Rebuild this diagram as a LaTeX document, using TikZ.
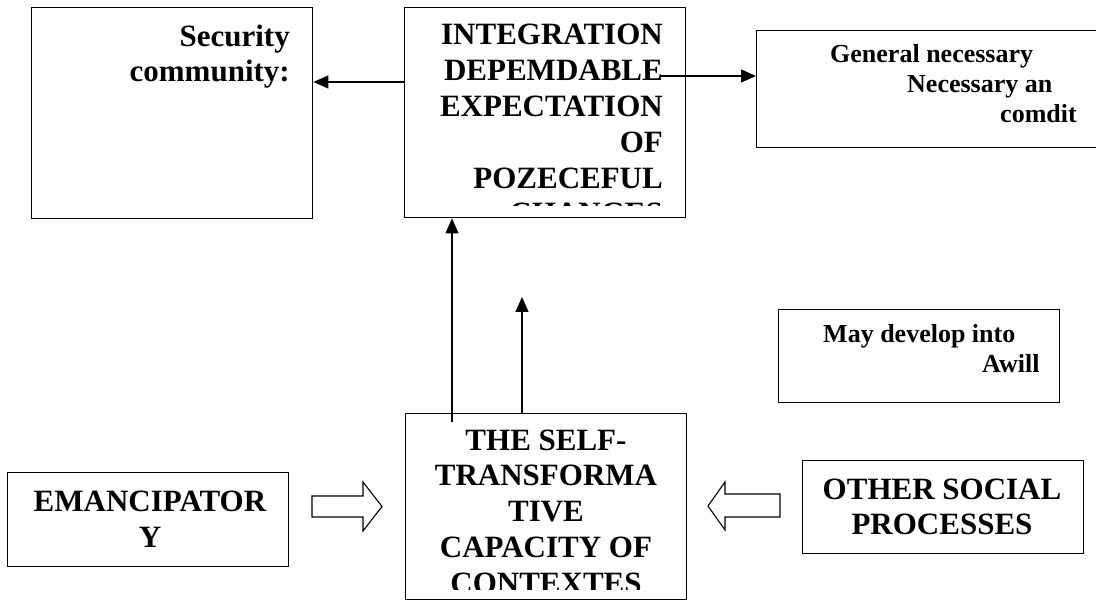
\documentclass[tikz,border=0pt]{standalone}
\usepackage{fontspec}
\setmainfont{Liberation Serif}
\usetikzlibrary{arrows.meta}
\begin{document}
\begin{tikzpicture}[x=1pt,y=-1pt,
  box/.style={draw=black, line width=1.4pt, inner sep=0pt, anchor=north west},
  big/.style={font=\bfseries\fontsize{31}{35.8}\selectfont, inner sep=0pt},
  small/.style={font=\bfseries\fontsize{26}{29.8}\selectfont, inner sep=0pt},
  conn/.style={line width=1.3pt, -{Triangle[length=15pt,width=13pt]}},
  hollow/.style={draw=black, line width=1.1pt, fill=white, line join=miter}]
\useasboundingbox (0,0) rectangle (1096,601);

% boxes
\node[box, minimum width=281pt, minimum height=211pt] (sec) at (31,7) {};
\node[box, minimum width=281pt, minimum height=210pt] (integ) at (404,7) {};
\node[box, minimum width=354pt, minimum height=117pt] (gen) at (756,30) {};
\node[box, minimum width=281pt, minimum height=93pt] (may) at (778,309) {};
\node[box, minimum width=281pt, minimum height=186pt] (self) at (405,413) {};
\node[box, minimum width=281pt, minimum height=94pt] (eman) at (7,472) {};
\node[box, minimum width=281pt, minimum height=93pt] (other) at (802,460) {};

% texts (base anchor = baseline of the last line)
\node[big, align=right, anchor=base east] (sectext) at (290,82) {Security\\community:};
\begin{scope}
  \clip (404,7) rectangle (685,206);
  \node[big, align=right, anchor=base east] (integtext) at (663,224)
    {INTEGRATION\\DEPEMDABLE\\EXPECTATION\\OF\\POZECEFUL\\CHANGES};
\end{scope}
\node[small, align=left, anchor=base west] (gentext) at (830,122.6)
  {General necessary\\\hspace*{77pt}Necessary an\\\hspace*{170pt}comdit};
\node[small, align=left, anchor=base west] (maytext) at (823,372.8)
  {May develop into\\\hspace*{159pt}Awill};
\begin{scope}
  \clip (405,413) rectangle (686,589);
  \node[big, align=center, anchor=base] (selftext) at (546,593.2)
    {THE SELF-\\TRANSFORMA\\TIVE\\CAPACITY OF\\CONTEXTES};
\end{scope}
\node[big, align=center, anchor=base] (emantext) at (150,547.8) {EMANCIPATOR\\Y};
\node[big, align=center, anchor=base] (othertext) at (942,534.8) {OTHER SOCIAL\\PROCESSES};

% connectors
\draw[conn] (integ.west |- 0,82) -- (sec.east |- 0,82);
\coordinate (dstart) at (660,76);
\draw[conn] (dstart) -- (gen.west |- dstart);
\coordinate (vstart) at (452,422);
\draw[conn] (vstart) -- (integ.south -| vstart);
\coordinate (vend) at (522,297);
\draw[conn] (self.north -| vend) -- (vend);

% hollow block arrows
\draw[hollow] (312,496) -- (363,496) -- (363,482) -- (382,506.5) -- (363,531) -- (363,517) -- (312,517) -- cycle;
\draw[hollow] (780,494) -- (725,494) -- (725,482) -- (708,506) -- (725,530) -- (725,517) -- (780,517) -- cycle;
\end{tikzpicture}
\end{document}
